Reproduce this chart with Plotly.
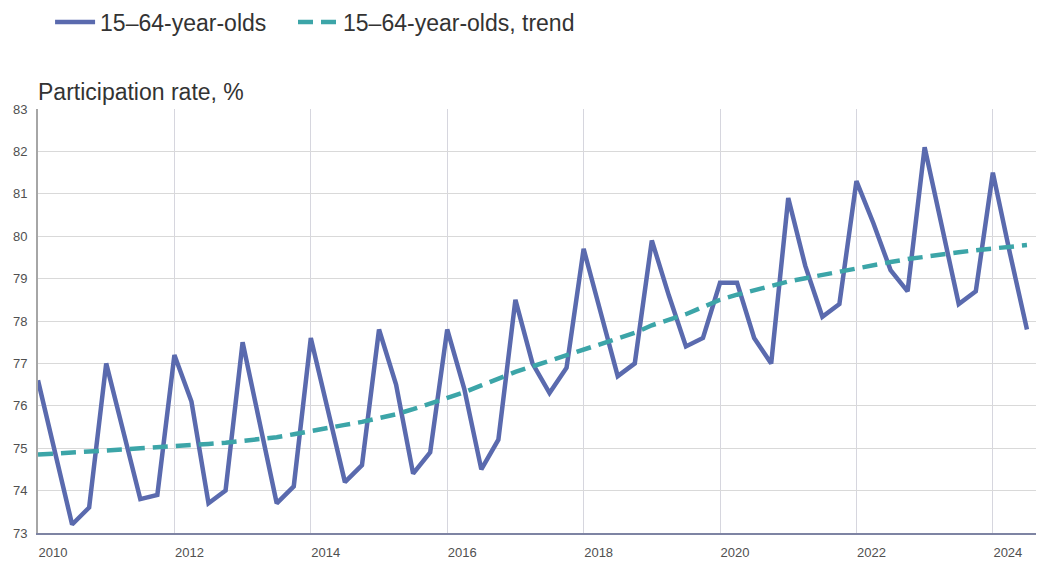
import plotly.graph_objects as go

years_start = 2010
quarter_step = 0.25

participation = [
    76.6, 74.9, 73.2, 73.6,
    77.0, 75.4, 73.8, 73.9,
    77.2, 76.1, 73.7, 74.0,
    77.5, 75.6, 73.7, 74.1,
    77.6, 75.9, 74.2, 74.6,
    77.8, 76.5, 74.4, 74.9,
    77.8, 76.4, 74.5, 75.2,
    78.5, 77.0, 76.3, 76.9,
    79.7, 78.2, 76.7, 77.0,
    79.9, 78.6, 77.4, 77.6,
    78.9, 78.9, 77.6, 77.0,
    80.9, 79.3, 78.1, 78.4,
    81.3, 80.3, 79.2, 78.7,
    82.1, 80.25, 78.4, 78.7,
    81.5, 79.6, 77.8,
]

trend = [
    74.85, 74.87, 74.89, 74.92,
    74.95, 74.97, 75.00, 75.02,
    75.05, 75.07, 75.10, 75.13,
    75.17, 75.21, 75.26, 75.33,
    75.41, 75.47, 75.55, 75.62,
    75.70, 75.80, 75.92, 76.05,
    76.18, 76.32, 76.48, 76.64,
    76.80, 76.93, 77.06, 77.19,
    77.32, 77.45, 77.58, 77.72,
    77.90, 78.03, 78.16, 78.33,
    78.50, 78.62, 78.73, 78.83,
    78.93, 79.01, 79.09, 79.17,
    79.24, 79.32, 79.39, 79.46,
    79.52, 79.57, 79.62, 79.67,
    79.71, 79.75, 79.79,
]

x_tick_years = [2010, 2012, 2014, 2016, 2018, 2020, 2022, 2024]
x_tick_labels = [str(y) for y in x_tick_years]
y_ticks = list(range(73, 84))

x_vals = [years_start + i * quarter_step for i in range(len(participation))]

FONT = "Liberation Sans, Arial, sans-serif"
LEG_FONT = dict(size=23, color="#333333", family=FONT)

fig = go.Figure()
fig.add_trace(go.Scatter(
    x=x_vals, y=participation, mode="lines", name="15–64-year-olds",
    line=dict(color="#5a6aae", width=4.5), legend="legend",
))
fig.add_trace(go.Scatter(
    x=x_vals, y=trend, mode="lines", name="15–64-year-olds, trend",
    line=dict(color="#3ca5a8", width=4.5, dash="15px,8px"), legend="legend2",
))

# page body has an 8px margin, so the figure is sized to end at the window edge
fig.update_layout(
    width=1036, height=553,
    margin=dict(l=30, r=0, t=101, b=28, autoexpand=False),
    paper_bgcolor="white", plot_bgcolor="white",
    font=dict(family=FONT, color="#404040"),
    showlegend=True,
    legend=dict(
        orientation="h", x=0.012, y=1.205, xanchor="left", yanchor="middle",
        font=LEG_FONT, itemwidth=40, bgcolor="rgba(0,0,0,0)",
    ),
    legend2=dict(
        orientation="h", x=0.2535, y=1.205, xanchor="left", yanchor="middle",
        font=LEG_FONT, itemwidth=40, bgcolor="rgba(0,0,0,0)",
    ),
    annotations=[dict(
        text="Participation rate, %", xref="paper", yref="paper",
        x=-0.002, y=1.04, xanchor="left", yanchor="middle", showarrow=False,
        font=LEG_FONT,
    )],
)

fig.update_xaxes(
    range=[2010, 2024.75], automargin=False,
    tickvals=x_tick_years, ticktext=x_tick_labels,
    showgrid=True, gridcolor="#d6d6de", gridwidth=1,
    showline=True, linecolor="#7e84a3", linewidth=2,
    ticks="", ticklabelshift=15, ticklabelstandoff=6,
    tickfont=dict(size=13, color="#505050", family=FONT),
    zeroline=False,
)
fig.update_yaxes(
    range=[73, 83], tickvals=y_ticks, automargin=False,
    showgrid=True, gridcolor="#d9d9d9", gridwidth=1,
    showline=True, linecolor="#a6a6a6", linewidth=2,
    ticks="", ticklabelstandoff=6,
    tickfont=dict(size=13, color="#505050", family=FONT),
    zeroline=False,
)

fig.write_html("out.html")
